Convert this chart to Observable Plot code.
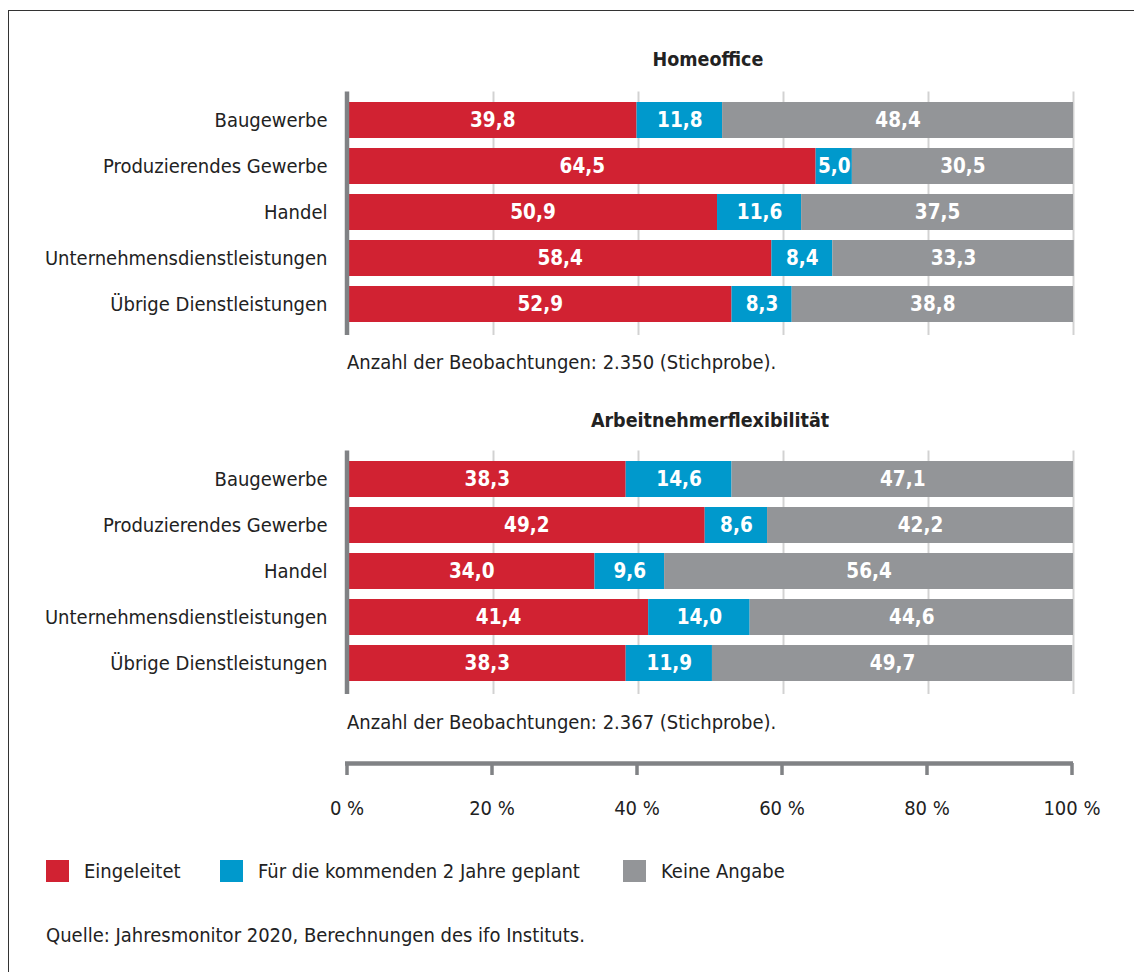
<!DOCTYPE html>
<html>
<head>
<meta charset="utf-8">
<script src="https://cdn.jsdelivr.net/npm/d3@7"></script>
<script src="https://cdn.jsdelivr.net/npm/@observablehq/plot@0.6"></script>
<style>
  html, body { margin: 0; padding: 0; background: #fff; }
  #root { position: relative; width: 1134px; height: 972px; overflow: hidden;
          font-family: "Liberation Sans Narrow", "DejaVu Sans Condensed", "Liberation Sans", sans-serif; color: #222; }
  .frame { position: absolute; left: 8px; top: 10px; right: -10px; bottom: -10px;
           border-left: 1.5px solid #333; border-top: 1.5px solid #333; }
  .abs { position: absolute; }
  .title { font-weight: bold; font-size: 19.5px; transform: translate(-50%, -50%); white-space: nowrap; }
  .note { font-size: 20px; transform: translateY(-50%); white-space: nowrap; }
  .legitem { display: flex; align-items: center; font-size: 20px; transform: translateY(-50%); white-space: nowrap; }
  .legitem .sw { width: 23px; height: 22px; margin-right: 15px; }
  svg { overflow: visible; }
</style>
</head>
<body>
<div id="root"><div class="frame"></div></div>
<script>
const categories = ["Baugewerbe", "Produzierendes Gewerbe", "Handel", "Unternehmensdienstleistungen", "Übrige Dienstleistungen"];
const series = ["Eingeleitet", "Für die kommenden 2 Jahre geplant", "Keine Angabe"];
const seriesColors = ["#d12232", "#0099cc", "#939598"];

const homeEingeleitet = [39.8, 64.5, 50.9, 58.4, 52.9];
const homeGeplant     = [11.8, 5.0, 11.6, 8.4, 8.3];
const homeKeine       = [48.4, 30.5, 37.5, 33.3, 38.8];

const flexEingeleitet = [38.3, 49.2, 34.0, 41.4, 38.3];
const flexGeplant     = [14.6, 8.6, 9.6, 14.0, 11.9];
const flexKeine       = [47.1, 42.2, 56.4, 44.6, 49.7];

const xTicks = [0, 20, 40, 60, 80, 100];
const xTickLabels = ["0 %", "20 %", "40 %", "60 %", "80 %", "100 %"];

const panelTitles = ["Homeoffice", "Arbeitnehmerflexibilität"];
const panelNotes = ["Anzahl der Beobachtungen: 2.350 (Stichprobe).", "Anzahl der Beobachtungen: 2.367 (Stichprobe)."];
const sourceText = "Quelle: Jahresmonitor 2020, Berechnungen des ifo Instituts.";

const FONT = '"Liberation Sans Narrow", "DejaVu Sans Condensed", "Liberation Sans", sans-serif';
const root = document.getElementById("root");

function rows(a, b, c) {
  const out = [];
  categories.forEach((cat, i) => {
    [a, b, c].forEach((arr, j) => out.push({cat, series: series[j], value: arr[i]}));
  });
  return out;
}
const fmt = v => v.toFixed(1).replace(".", ",");

function panel(data, top) {
  const H = 345;
  const p = Plot.plot({
    width: 1134, height: H,
    marginLeft: 348, marginRight: 61, marginTop: 97, marginBottom: H - 327,
    style: {fontFamily: FONT, fontSize: "20px", color: "#222", background: "transparent", overflow: "visible"},
    x: {domain: [0, 100], axis: null},
    y: {domain: categories, paddingInner: 10 / 46, paddingOuter: 5 / 46, label: null, tickSize: 0, tickPadding: 21},
    color: {domain: series, range: seriesColors},
    marks: [
      Plot.ruleX(xTicks.slice(1), {stroke: "#d2d2d2", strokeWidth: 2, insetTop: -5.5, insetBottom: -8}),
      Plot.barX(data, Plot.stackX({x: "value", y: "cat", fill: "series", z: "series", order: series})),
      Plot.text(data, Plot.stackX({x: "value", y: "cat", z: "series", order: series,
        text: d => fmt(d.value), fill: "white", fontWeight: "bold", fontSize: 20.5})),
      Plot.ruleX([0], {stroke: "#808285", strokeWidth: 4.5, dx: -1.5, insetTop: -5.5, insetBottom: -8})
    ]
  });
  p.style.position = "absolute";
  p.style.left = "0px";
  p.style.top = top + "px";
  root.appendChild(p);
}

function addDiv(cls, text, left, top) {
  const d = document.createElement("div");
  d.className = "abs " + cls;
  d.textContent = text;
  d.style.left = left + "px";
  d.style.top = top + "px";
  root.appendChild(d);
  return d;
}

addDiv("title", panelTitles[0], 708, 59);
panel(rows(homeEingeleitet, homeGeplant, homeKeine), 0);
addDiv("note", panelNotes[0], 347, 362);

addDiv("title", panelTitles[1], 710, 420);
panel(rows(flexEingeleitet, flexGeplant, flexKeine), 359);
addDiv("note", panelNotes[1], 347, 722);

// bottom axis
const axis = Plot.plot({
  width: 1134, height: 90,
  marginLeft: 348, marginRight: 61, marginTop: 23, marginBottom: 55,
  style: {fontFamily: FONT, fontSize: "20px", color: "#222", background: "transparent", overflow: "visible"},
  x: {domain: [0, 100], axis: null},
  y: {domain: [0, 1], range: [23, 35], axis: null},
  marks: [
    Plot.ruleX(xTicks, {x: d => d, y1: 0, y2: 1, stroke: "#808285", strokeWidth: 3.5, dx: -1.5}),
    Plot.ruleY([0], {x1: 0, x2: 100, stroke: "#808285", strokeWidth: 4.5, dx: -1.5, insetLeft: -1.5, insetRight: -1.5}),
    Plot.text(xTicks, {x: d => d, y: () => 3.75, text: (d, i) => xTickLabels[i], fill: "#222", fontSize: 20, dx: -1.5})
  ]
});
axis.style.position = "absolute";
axis.style.left = "0px";
axis.style.top = "740px";
root.appendChild(axis);

// legend
const legendLefts = [46, 220, 623];
series.forEach((s, i) => {
  const it = document.createElement("div");
  it.className = "abs legitem";
  it.style.left = legendLefts[i] + "px";
  it.style.top = "871px";
  const sw = document.createElement("div");
  sw.className = "sw";
  sw.style.background = seriesColors[i];
  const t = document.createElement("span");
  t.textContent = s;
  it.appendChild(sw); it.appendChild(t);
  root.appendChild(it);
});

addDiv("note", sourceText, 46, 935);
</script>
</body>
</html>
